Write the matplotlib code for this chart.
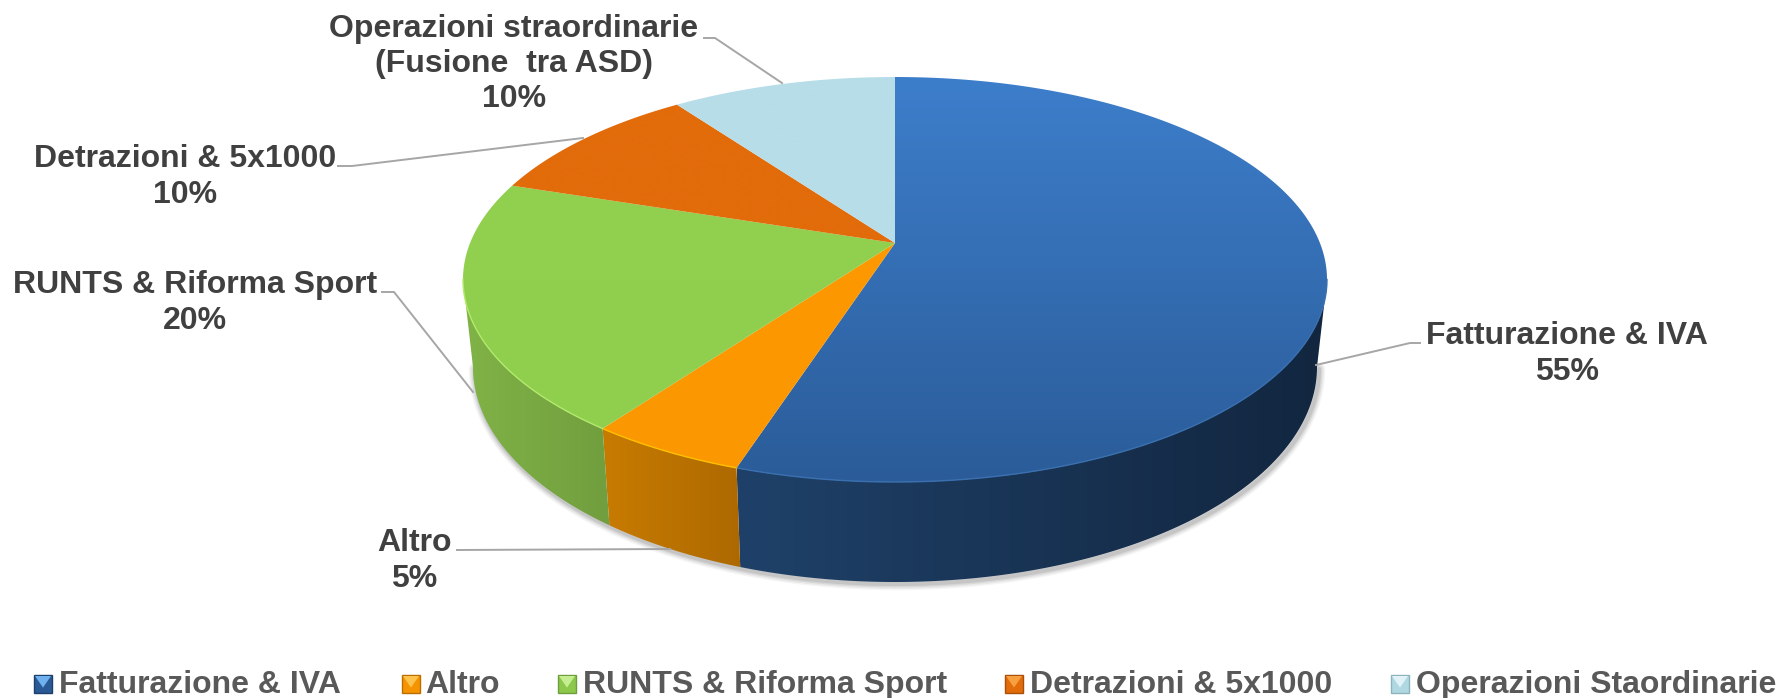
"""
3d looking pie of the request categories, drawn by hand since
matplotlib's pie has no perspective
"""
import numpy as np
import matplotlib.pyplot as plt
from matplotlib.colors import LinearSegmentedColormap
from matplotlib.patches import Polygon

labels = ['Fatturazione & IVA', 'Altro', 'RUNTS & Riforma Sport',
          'Detrazioni & 5x1000', 'Operazioni straordinarie\n(Fusione  tra ASD)']
values = [55, 5, 20, 10, 10]
legend_labels = ['Fatturazione & IVA', 'Altro', 'RUNTS & Riforma Sport',
                 'Detrazioni & 5x1000', 'Operazioni Staordinarie']

# top colours per slice (start,end of the vertical gradient)
face_colors = [('#3d7ecb', '#2b5c99'), ('#ff9900', '#fb9700'), ('#92d050', '#90ce4e'),
               ('#e26b0a', '#e26b0a'), ('#b7dde8', '#b7dde8')]
wall_colors = [('#1f4169', '#12263f'), ('#c87b00', '#ad6900'), ('#80b347', '#719e3e'),
               ('#b0530a', '#b0530a'), ('#8fb0b8', '#8fb0b8')]
rim_colors = ['#3a70b0', '#ffc000', '#b2ea6c', '#e26b0a', '#b7dde8']
legend_colors = [('#6fb0ee', '#2a5a96', '#1d3f6b'), ('#ffc34d', '#f59400', '#b86f00'),
                 ('#c4ee90', '#8cc84b', '#6f9f3c'), ('#f8a040', '#e26b0a', '#a8500a'),
                 ('#e0f2f7', '#b0d8e3', '#8db3bd')]

# pixel layout of the reference
CX = 895
TOP_CY, TOP_RX, TOP_RY = 279.5, 432, 202.5
LOW_CY, LOW_RX, LOW_RY = 367, 422, 215
PERSP = 0.18  # how far the apex sits behind the ellipse centre

label_pos = [(1567, 354), (414, 561), (195, 303), (185, 177), (514, 64)]
leaders = [[(1420, 343), (1410, 343), (1316, 365)],
           [(457, 550), (670, 549)],
           [(382, 292), (394, 292), (473, 392)],
           [(338, 166), (352, 166), (583, 138)],
           [(704, 38), (715, 38), (782, 83)]]
legend_box_x = [34, 402, 558, 1005, 1391]
legend_text_x = [59, 425, 583, 1030, 1416]

FONT = 'Liberation Sans'
FONT_SIZE = 23.0


def project(theta, cy, rx, ry):
    """theta clockwise from 12 o'clock -> pixel, circle seen in perspective"""
    u, v = np.sin(theta), np.cos(theta)
    den = 1 + PERSP*v
    x = u*np.sqrt(1 - PERSP**2)/den
    y = (v + PERSP)/den
    return CX + rx*x, cy - ry*y


def gradient_fill(ax, verts, c0, c1, extent, horizontal=False):
    cmap = LinearSegmentedColormap.from_list('g', [c0, c1])
    ramp = np.linspace(0, 1, 256)
    ramp = ramp[None, :] if horizontal else ramp[:, None]
    im = ax.imshow(ramp, cmap=cmap, extent=extent, aspect='auto', zorder=3,
                   vmin=0, vmax=1, interpolation='bilinear')
    poly = Polygon(verts, closed=True, transform=ax.transData, fc='none', ec='none')
    ax.add_patch(poly)
    im.set_clip_path(poly)


def main():
    fig = plt.figure(figsize=(17.79, 6.98), dpi=100)
    ax = fig.add_axes([0, 0, 1, 1])

    fracs = np.cumsum([0] + values)/np.sum(values)
    angles = 2*np.pi*fracs
    edge = np.arccos(-PERSP)  # right side silhouette, ellipse centre level
    vis0, vis1 = edge, 2*np.pi - edge

    # soft shadow under the wall
    t = np.linspace(vis0, vis1, 300)
    sx, sy = project(t, LOW_CY, LOW_RX, LOW_RY)
    for lw, a in zip([9, 7, 5, 3], [0.05, 0.07, 0.09, 0.12]):
        ax.plot(sx + 2, sy + 2, color='#404040', lw=lw, alpha=a, zorder=1,
                solid_capstyle='round')

    # side walls
    for i in range(len(values)):
        a0, a1 = max(angles[i], vis0), min(angles[i + 1], vis1)
        if a1 <= a0:
            continue
        t = np.linspace(a0, a1, 200)
        xt, yt = project(t, TOP_CY, TOP_RX, TOP_RY)
        xb, yb = project(t, LOW_CY, LOW_RX, LOW_RY)
        verts = np.r_[np.c_[xt, yt], np.c_[xb, yb][::-1]]
        ext = (verts[:, 0].min(), verts[:, 0].max(), verts[:, 1].max(), verts[:, 1].min())
        c0, c1 = wall_colors[i]
        gradient_fill(ax, verts, c0, c1, ext, horizontal=True)

    # top face
    apex = (CX, TOP_CY - TOP_RY*PERSP)
    for i in range(len(values)):
        t = np.linspace(angles[i], angles[i + 1], 300)
        xt, yt = project(t, TOP_CY, TOP_RX, TOP_RY)
        verts = np.r_[[apex], np.c_[xt, yt]]
        c0, c1 = face_colors[i]
        ext = (CX - TOP_RX, CX + TOP_RX, TOP_CY + TOP_RY, TOP_CY - TOP_RY)
        gradient_fill(ax, verts, c0, c1, ext)
        # lighter rim along the front edge
        a0, a1 = max(angles[i], vis0), min(angles[i + 1], vis1)
        if a1 > a0:
            t = np.linspace(a0, a1, 200)
            xt, yt = project(t, TOP_CY, TOP_RX, TOP_RY)
            ax.plot(xt, yt, color=rim_colors[i], lw=1.0, zorder=4)

    # leader lines + labels
    for pts in leaders:
        pts = np.array(pts)
        ax.plot(pts[:, 0], pts[:, 1], color='#a6a6a6', lw=1.4, zorder=5)
    for lab, val, (x, y) in zip(labels, values, label_pos):
        ax.text(x, y, f'{lab}\n{val}%', ha='center', va='center', family=FONT,
                weight='bold', fontsize=FONT_SIZE, color='#404040',
                linespacing=1.22, zorder=6)

    # legend, little bevelled squares
    box = 18
    for lab, bx, tx, (c_hi, c_mid, c_low) in zip(legend_labels, legend_box_x,
                                                 legend_text_x, legend_colors):
        y0 = 675
        ax.add_patch(Polygon([(bx, y0), (bx + box, y0), (bx + box, y0 + box), (bx, y0 + box)],
                             fc=c_mid, ec=c_low, lw=1, zorder=5))
        ax.add_patch(Polygon([(bx + 1, y0 + 1), (bx + box - 1, y0 + 1), (bx + box/2, y0 + box*0.7)],
                             fc=c_hi, ec='none', zorder=6))
        ax.text(tx, 693, lab, ha='left', va='baseline', family=FONT, weight='bold',
                fontsize=FONT_SIZE, color='#595959', zorder=6)

    ax.set_xlim(0, 1779)
    ax.set_ylim(698, 0)
    ax.axis('off')
    fig.savefig('out.png', dpi=100, facecolor='white')


if __name__ == '__main__':
    main()
